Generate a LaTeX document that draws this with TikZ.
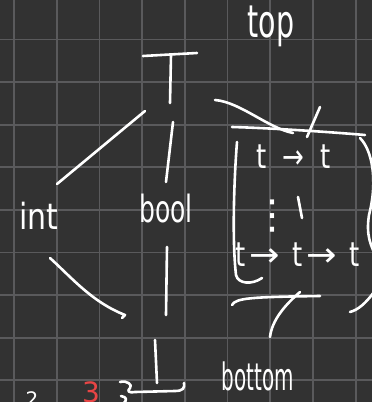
\documentclass[tikz,border=0pt]{standalone}
\usepackage{fontspec}
\setmainfont{DejaVu Sans}
\usepackage{graphicx}
\definecolor{bg}{HTML}{323232}
\definecolor{gridc}{HTML}{5A5A5C}
\definecolor{redink}{HTML}{E84545}
\newcommand{\longarr}{\scalebox{1.4}[1]{→}}
\begin{document}
\begin{tikzpicture}[x=1pt,y=-1pt,line cap=round,line join=round,
  pen/.style={draw=white,line width=2.6pt},
  gridline/.style={draw=gridc,line width=1.8pt},
  lbl/.style={text=white,inner sep=0pt}]
\clip (0,0) rectangle (372,402);
\fill[bg] (0,0) rectangle (372,402);
\foreach \i in {0,...,8} \draw[gridline] ({14+42.7*\i},0) -- ({14+42.7*\i},402);
\foreach \j in {1,...,9} \draw[gridline] (0,{-3.1+42.6*\j}) -- (372,{-3.1+42.6*\j});
% labels
\node[lbl,anchor=base,font=\fontsize{30}{30}\selectfont] (toplbl) at (271,37) {\scalebox{0.95}[1.5]{top}};
\node[lbl,anchor=base,font=\fontsize{30}{30}\selectfont] (int) at (39,229) {\scalebox{1}[1.2]{int}};
\node[lbl,anchor=base,font=\fontsize{25}{25}\selectfont] (bool) at (166,222) {\scalebox{1}[1.5]{bool}};
\node[lbl,anchor=base,font=\fontsize{21}{21}\selectfont] (bottom) at (258,390) {\scalebox{0.95}[1.8]{bottom}};
\node[lbl,anchor=base west,font=\fontsize{26}{26}\selectfont] (fn1) at (256,168) {\scalebox{1}[1.3]{t\hspace{16pt}→\hspace{16pt}t}};
\node[lbl,anchor=base west,font=\fontsize{26}{26}\selectfont] (fn2) at (235,266) {\scalebox{1}[1.3]{t\,\longarr\hspace{12pt}t\,\longarr\hspace{12pt}t}};
\node[lbl,font=\fontsize{40}{40}\selectfont] (dots) at (272,216) {⋮};
\node[lbl,anchor=north,font=\fontsize{20}{20}\selectfont] (two) at (32,391) {2};
\node[lbl,anchor=base,font=\fontsize{18}{18}\selectfont] (comma) at (58,405) {,};
\node[lbl,anchor=north,text=redink,font=\fontsize{28}{28}\selectfont] (three) at (91,382) {3};
% coordinates
\coordinate (Tl) at (143,56); \coordinate (Tr) at (197,53);
\coordinate (Tt) at (171,55); \coordinate (Tb) at (170,103);
\coordinate (topA) at (145,111); \coordinate (intA) at (57,184);
\coordinate (topB) at (173,122); \coordinate (boolA) at (166,182);
\coordinate (intB) at (50,258); \coordinate (botA) at (125,315);
\coordinate (boolB) at (167,247); \coordinate (botB) at (166,315);
\coordinate (topC) at (215,100); \coordinate (boxA) at (293,133);
\coordinate (Bt) at (155,340); \coordinate (Bb) at (157,383);
\coordinate (boxB) at (300,292); \coordinate (botC) at (270,337);
% top symbol
\draw[pen] (Tl) -- (Tr);
\draw[pen] (Tt) -- (Tb);
% connectors
\draw[pen] (topA) -- (intA);
\draw[pen] (topB) -- (boolA);
\draw[pen] (topC) .. controls (240,102) and (268,128) .. (boxA);
\draw[pen] (intB) .. controls (72,278) and (92,302) .. (botA) -- (122,318);
\draw[pen] (boolB) -- (botB);
\draw[pen] (boxB) .. controls (285,305) and (272,320) .. (botC);
% bottom symbol
\draw[pen] (Bt) -- (Bb);
\draw[pen] (120,382) .. controls (127,380) and (133,385) .. (130,388) .. controls (127,391) and (128,393) .. (135,392) -- (175,391) .. controls (183,391) and (185,388) .. (184,383);
\draw[pen] (121,396) .. controls (127,397) and (127,400) .. (124,403);
% box
\draw[pen] (232,127) .. controls (270,128) and (330,132) .. (365,135);
\draw[pen] (320,107) -- (307,137);
\draw[pen] (237,142) .. controls (234,180) and (232,240) .. (236,275) .. controls (238,284) and (252,285) .. (262,278);
\draw[pen] (360,138) .. controls (372,150) and (378,180) .. (369,215) .. controls (366,235) and (370,245) .. (378,260);
\draw[pen] (350,312) .. controls (358,310) and (366,303) .. (374,292);
\draw[pen] (232,305) .. controls (236,298) and (250,297) .. (320,296);
\draw[pen] (298,197) -- (302,218);
\end{tikzpicture}
\end{document}
